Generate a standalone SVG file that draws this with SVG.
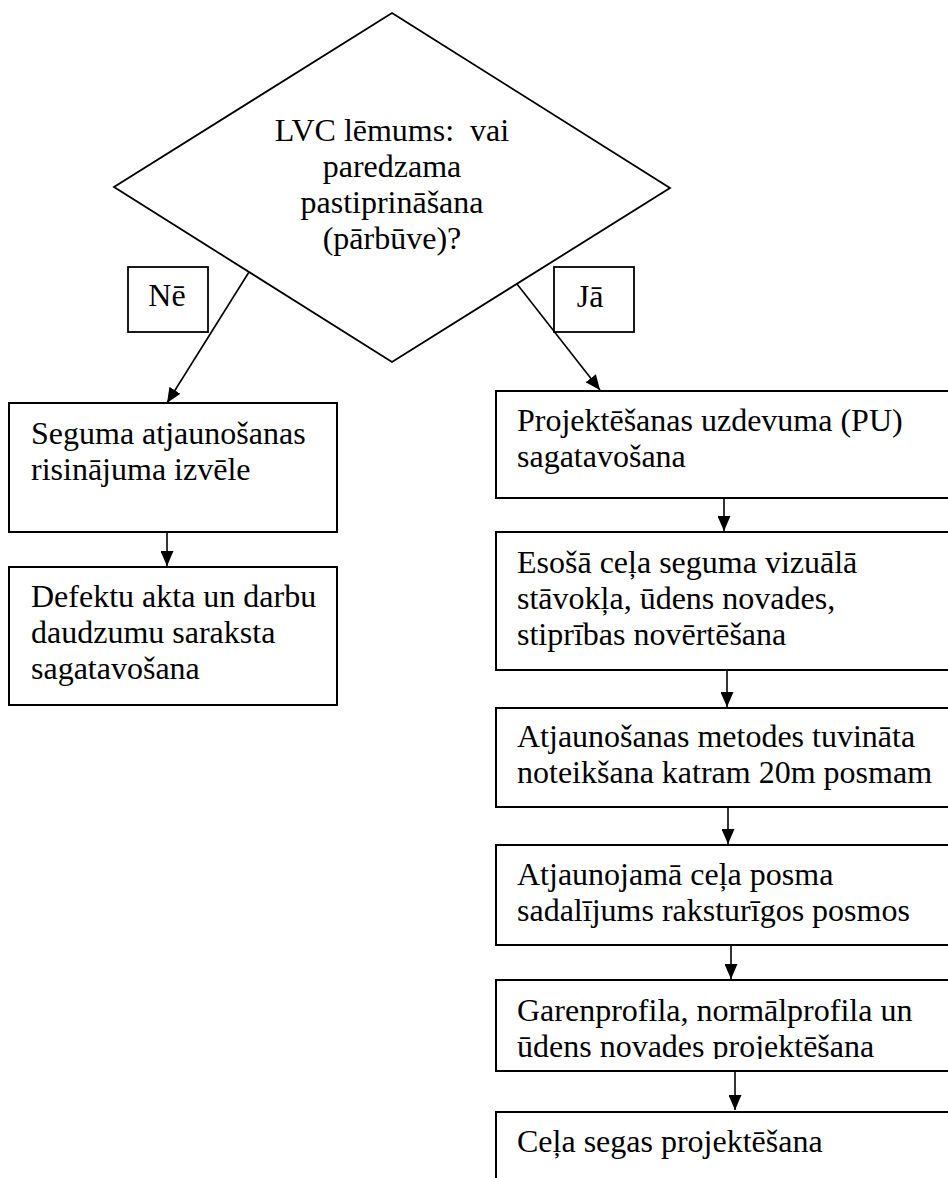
<svg xmlns="http://www.w3.org/2000/svg" width="948" height="1178" viewBox="0 0 948 1178">
<style>
.box{fill:#fff;stroke:#000;stroke-width:2}
.dia{fill:#fff;stroke:#000;stroke-width:1.8}
.lbl{fill:#fff;stroke:#000;stroke-width:1.8}
.t{font-family:"Liberation Serif","Times New Roman",serif;font-size:32px;fill:#000}
.c{text-anchor:middle}
.edge{stroke:#000;stroke-width:1.6;fill:none;marker-end:url(#ah)}
</style>
<defs>
<marker id="ah" markerUnits="userSpaceOnUse" markerWidth="15" markerHeight="13" refX="15" refY="6.5" orient="auto">
<path d="M0,0 L15,6.5 L0,13 z" fill="#000"/>
</marker>
<clipPath id="clip5"><rect x="496" y="980" width="460" height="79"/></clipPath>
</defs>
<rect width="948" height="1178" fill="#fff"/>

<g id="decision">
<polygon class="dia" points="392,13 670,188 392,362 114,187"/>
<text class="t c" x="392" y="141" xml:space="preserve">LVC lēmums:  vai</text>
<text class="t c" x="392" y="177">paredzama</text>
<text class="t c" x="392" y="213">pastiprināšana</text>
<text class="t c" x="392" y="249">(pārbūve)?</text>
</g>

<g id="label-ne">
<rect class="lbl" x="128" y="267" width="80" height="65"/>
<text class="t c" x="167" y="306">Nē</text>
</g>
<g id="label-ja">
<rect class="lbl" x="554" y="267" width="80" height="65"/>
<text class="t c" x="590" y="307">Jā</text>
</g>

<g id="left1">
<rect class="box" x="9" y="403" width="328" height="129"/>
<text class="t" x="31" y="444">Seguma atjaunošanas</text>
<text class="t" x="31" y="480">risinājuma izvēle</text>
</g>
<g id="left2">
<rect class="box" x="9" y="567" width="328" height="138"/>
<text class="t" x="31" y="607">Defektu akta un darbu</text>
<text class="t" x="31" y="643">daudzumu saraksta</text>
<text class="t" x="31" y="679">sagatavošana</text>
</g>

<g id="right1">
<rect class="box" x="496" y="391" width="470" height="107"/>
<text class="t" x="517" y="431">Projektēšanas uzdevuma (PU)</text>
<text class="t" x="517" y="467">sagatavošana</text>
</g>
<g id="right2">
<rect class="box" x="496" y="532" width="470" height="138"/>
<text class="t" x="517" y="573">Esošā ceļa seguma vizuālā</text>
<text class="t" x="517" y="609">stāvokļa, ūdens novades,</text>
<text class="t" x="517" y="645">stiprības novērtēšana</text>
</g>
<g id="right3">
<rect class="box" x="496" y="708" width="470" height="99"/>
<text class="t" x="517" y="747">Atjaunošanas metodes tuvināta</text>
<text class="t" x="517" y="783">noteikšana katram 20m posmam</text>
</g>
<g id="right4">
<rect class="box" x="496" y="845" width="470" height="100"/>
<text class="t" x="517" y="885">Atjaunojamā ceļa posma</text>
<text class="t" x="517" y="921">sadalījums raksturīgos posmos</text>
</g>
<g id="right5">
<rect class="box" x="496" y="980" width="470" height="91"/>
<g clip-path="url(#clip5)">
<text class="t" x="517" y="1021">Garenprofila, normālprofila un</text>
<text class="t" x="517" y="1057">ūdens novades projektēšana</text>
</g>
</g>
<g id="right6">
<rect class="box" x="496" y="1112" width="470" height="100"/>
<text class="t" x="517" y="1152">Ceļa segas projektēšana</text>
</g>

<g id="connectors">
<line class="edge" x1="249" y1="272" x2="167" y2="403"/>
<line class="edge" x1="517" y1="284" x2="600" y2="390"/>
<line class="edge" x1="167" y1="532" x2="167" y2="566"/>
<line class="edge" x1="724" y1="498" x2="724" y2="531"/>
<line class="edge" x1="727" y1="670" x2="727" y2="707"/>
<line class="edge" x1="728" y1="807" x2="728" y2="844"/>
<line class="edge" x1="731" y1="945" x2="731" y2="979"/>
<line class="edge" x1="735" y1="1071" x2="735" y2="1110"/>
</g>
</svg>
